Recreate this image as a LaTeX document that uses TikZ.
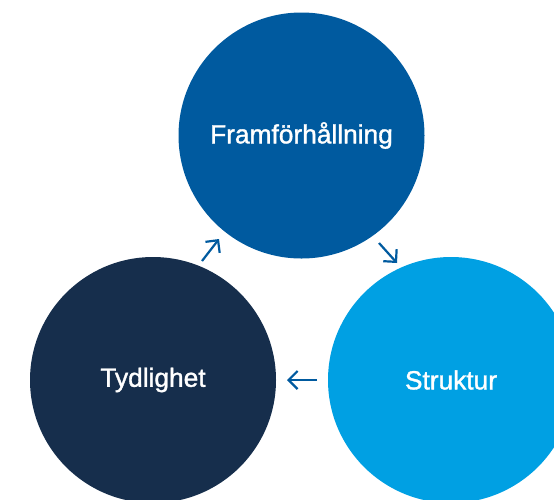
\documentclass[tikz,border=0pt]{standalone}
\usepackage{fontspec}
\setmainfont{Liberation Sans}
\newfontfamily\bubfont[FakeBold=1.3]{Liberation Sans}
\usetikzlibrary{arrows.meta}
\definecolor{cTop}{HTML}{005A9F}
\definecolor{cLeft}{HTML}{162E4C}
\definecolor{cRight}{HTML}{00A0E3}
\definecolor{cArrow}{HTML}{005A9F}
\tikzset{
  bubble/.style={circle, minimum size=246pt, inner sep=0pt, text=white, font=\bubfont\fontsize{26.3}{30}\selectfont},
  flow/.style={draw=cArrow, line width=2.2pt, -{Straight Barb[length=9pt,width=18pt]}}
}
\begin{document}
\begin{tikzpicture}[x=1pt,y=-1pt]
\useasboundingbox (0,0) rectangle (554,499);
\clip (0,0) rectangle (554,499);
\node[bubble, fill=cTop] (top) at (301.5,135.5) {Framförhållning};
\node[bubble, fill=cLeft] (left) at (153,380) {Tydlighet};
\node[bubble, fill=cRight] (right) at (451,380) {Struktur};
\coordinate (a1s) at (202,261);
\coordinate (a1e) at (219,239);
\coordinate (a2s) at (379,243);
\coordinate (a2e) at (397,263);
\coordinate (a3s) at (317,380);
\coordinate (a3e) at (287,380);
\draw[flow] (a1s) -- (a1e);
\draw[flow] (a2s) -- (a2e);
\draw[flow] (a3s) -- (a3e);
\end{tikzpicture}
\end{document}
